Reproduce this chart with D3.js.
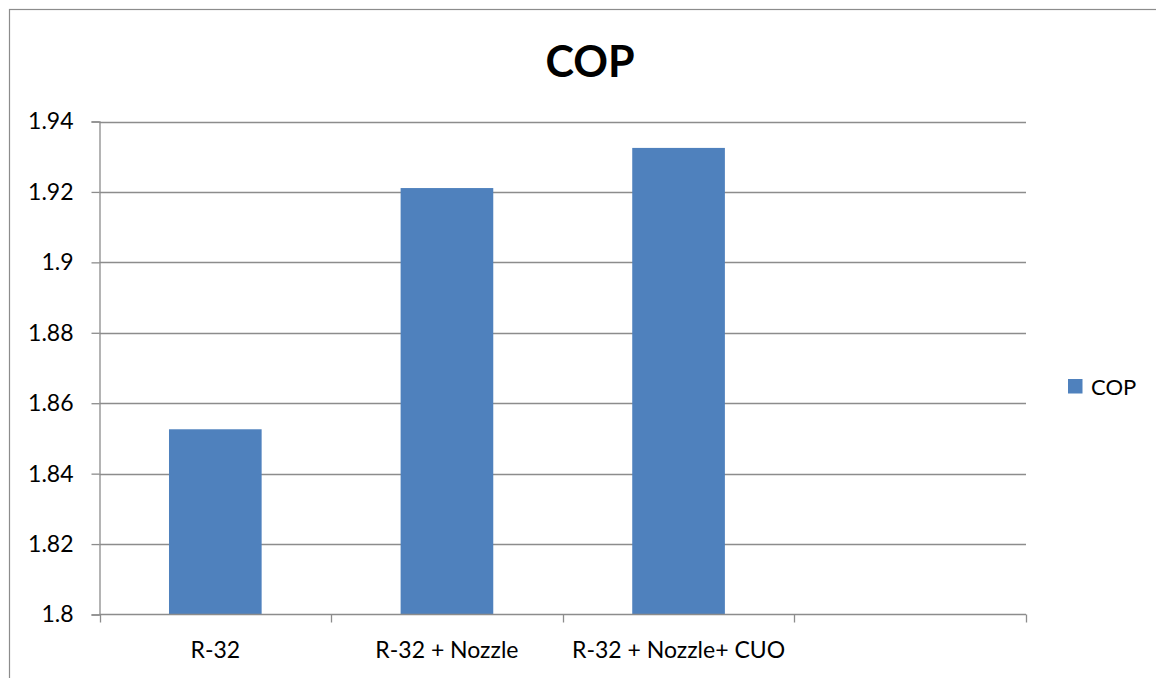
<!DOCTYPE html>
<html>
<head>
<meta charset="utf-8">
<script src="https://cdn.jsdelivr.net/npm/d3@7"></script>
<style>
  html, body { margin: 0; padding: 0; background: #fff; }
  svg { display: block; font-family: Lato, "Open Sans", sans-serif; }
</style>
</head>
<body>
<svg id="chart" width="1156" height="678"></svg>
<script>
// Chart data
const categories = ["R-32", "R-32 + Nozzle", "R-32 + Nozzle+ CUO", ""];
const copValues = [1.8526, 1.9211, 1.9325, null];
const yTicks = [1.8, 1.82, 1.84, 1.86, 1.88, 1.9, 1.92, 1.94];
const seriesName = "COP";
const chartTitle = "COP";

const svg = d3.select("#chart");
const W = 1156, H = 678;
const plot = { left: 99.5, right: 1026, top: 121.5, bottom: 614.5 };
const barColor = "#4f81bd";
const lineColor = "#8c8c8c";

// Outer chart border (extends past the right and bottom edges)
svg.append("rect")
  .attr("x", 9.5).attr("y", 9.5)
  .attr("width", W + 20).attr("height", H + 20)
  .attr("fill", "#fff")
  .attr("stroke", lineColor).attr("stroke-width", 1.2);

const x = d3.scaleBand()
  .domain(d3.range(categories.length))
  .range([plot.left, plot.right])
  .padding(0);

const y = d3.scaleLinear()
  .domain([1.8, 1.94])
  .range([plot.bottom, plot.top]);

// Horizontal gridlines
svg.append("g")
  .selectAll("line")
  .data(yTicks.filter(t => t > 1.8))
  .join("line")
  .attr("x1", plot.left).attr("x2", plot.right)
  .attr("y1", d => Math.round(y(d)) + 0.5).attr("y2", d => Math.round(y(d)) + 0.5)
  .attr("stroke", lineColor).attr("stroke-width", 1.3);

// Bars
const barW = x.bandwidth() * 0.4;
svg.append("g")
  .selectAll("rect")
  .data(copValues.map((v, i) => ({ v, i })).filter(d => d.v != null))
  .join("rect")
  .attr("x", d => x(d.i) + (x.bandwidth() - barW) / 2)
  .attr("width", barW)
  .attr("y", d => y(d.v))
  .attr("height", d => y(1.8) - y(d.v))
  .attr("fill", barColor);

// Y axis
const yAxis = svg.append("g")
  .attr("transform", `translate(${plot.left},0)`)
  .call(d3.axisLeft(y).tickValues(yTicks).tickSize(8).tickPadding(18)
    .tickFormat(d => d3.format("")(+d.toFixed(2))));
yAxis.select(".domain").attr("stroke", lineColor).attr("stroke-width", 1.3);
yAxis.selectAll(".tick line").attr("stroke", lineColor).attr("stroke-width", 1.3);
yAxis.selectAll(".tick text")
  .attr("fill", "#000").attr("font-size", 23)
  .attr("font-family", "Lato, 'Open Sans', sans-serif");

// X axis: ticks sit on the category boundaries
const boundaries = d3.range(categories.length + 1).map(i => plot.left + i * x.step());
const xAxis = svg.append("g");
xAxis.append("line")
  .attr("x1", plot.left).attr("x2", plot.right)
  .attr("y1", plot.bottom).attr("y2", plot.bottom)
  .attr("stroke", lineColor).attr("stroke-width", 1.3);
xAxis.selectAll("line.tk")
  .data(boundaries)
  .join("line").attr("class", "tk")
  .attr("x1", d => Math.round(d) + 0.5).attr("x2", d => Math.round(d) + 0.5)
  .attr("y1", plot.bottom).attr("y2", plot.bottom + 8)
  .attr("stroke", lineColor).attr("stroke-width", 1.3);
xAxis.selectAll("text")
  .data(categories)
  .join("text")
  .attr("x", (d, i) => x(i) + x.bandwidth() / 2)
  .attr("y", 658)
  .attr("text-anchor", "middle")
  .attr("font-size", 23)
  .attr("fill", "#000")
  .text(d => d);

// Title
svg.append("text")
  .attr("x", 590).attr("y", 77)
  .attr("text-anchor", "middle")
  .attr("font-size", 43).attr("font-weight", "bold")
  .attr("fill", "#000")
  .text(chartTitle);

// Legend
const legend = svg.append("g").attr("transform", "translate(1068,379)");
legend.append("rect").attr("width", 14.5).attr("height", 14.5).attr("fill", barColor);
legend.append("text")
  .attr("x", 23).attr("y", 16)
  .attr("font-size", 22).attr("fill", "#000")
  .text(seriesName);
</script>
</body>
</html>
